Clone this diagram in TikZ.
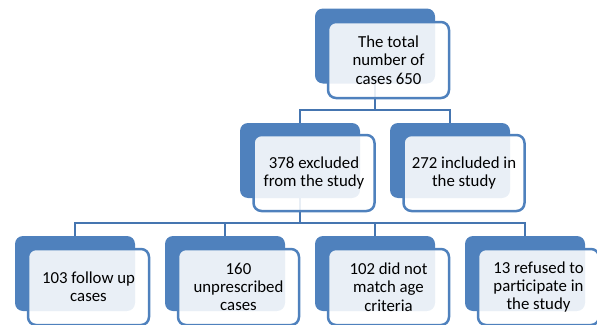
\documentclass[tikz,border=0pt]{standalone}
\usepackage{fontspec}
\setmainfont{Carlito}
\definecolor{bk}{HTML}{4F81BD}
\definecolor{bd}{HTML}{4F81BD}
\definecolor{cn}{HTML}{4575B0}
\begin{document}
\begin{tikzpicture}[x=1pt,y=-1pt,
 back/.style={fill=bk, rounded corners=8pt, minimum width=120pt, minimum height=75pt, inner sep=0pt},
 front/.style={draw=bd, line width=2.5pt, fill=white, fill opacity=0.88, text opacity=1, rounded corners=8pt, minimum width=121pt, minimum height=76pt, align=center, inner sep=0pt, font=\fontsize{16.8}{18.3}\selectfont},
 conn/.style={draw=cn, line width=2.5pt}]
\useasboundingbox (0,0) rectangle (597,324);
\clip (0,0) rectangle (597,324);
% back boxes
\node[back] (t) at (375,46) {};
\node[back] (a) at (300,160.5) {};
\node[back] (b) at (450,160.5) {};
\node[back] (c1) at (75,273.5) {};
\node[back] (c2) at (225,273.5) {};
\node[back] (c3) at (375,273.5) {};
\node[back] (c4) at (525,273.5) {};
% connectors
\coordinate (j1) at (375,110);
\coordinate (j2) at (300,223);
\draw[conn] (t.south) -- (j1) -| (a.north);
\draw[conn] (j1) -| (b.north);
\draw[conn] (a.south) -- (j2) -| (c1.north);
\draw[conn] (j2) -| (c2.north);
\draw[conn] (j2) -| (c3.north);
\draw[conn] (j2) -| (c4.north);
% front boxes
\node[front] (tf) at (388.5,60) {The total\\number of\\cases 650};
\node[front] (af) at (314,173) {378 excluded\\from the study};
\node[front] (bf) at (464,173) {272 included in\\the study};
\node[front] (c1f) at (88.5,287) {103 follow up\\cases};
\node[front] (c2f) at (238.5,287) {160\\unprescribed\\cases};
\node[front] (c3f) at (388.5,287) {102 did not\\match age\\criteria};
\node[front] (c4f) at (538.5,287) {13 refused to\\participate in\\the study};
\end{tikzpicture}
\end{document}
